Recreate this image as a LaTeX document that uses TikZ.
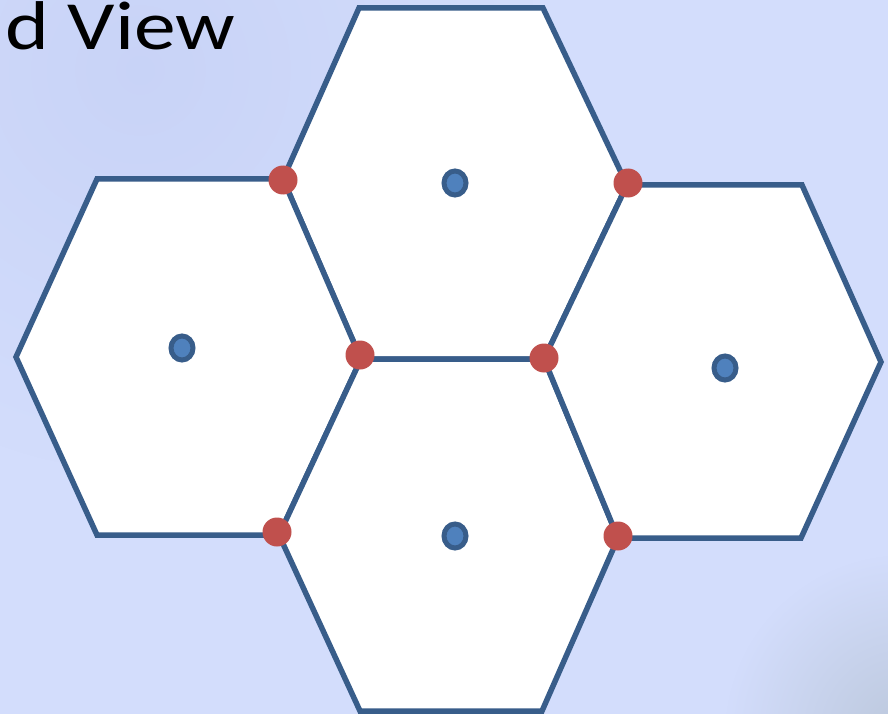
\documentclass[tikz,border=0pt]{standalone}
\usepackage{fontspec}
\setmainfont{Carlito}
\newfontfamily\titlefont[FakeStretch=1.21]{Carlito}
\usetikzlibrary{fadings,shapes.geometric}
\definecolor{bgbase}{HTML}{D3DDFC}
\definecolor{bgtl}{HTML}{C6D1F6}
\definecolor{bgbr}{HTML}{BCC8DC}
\definecolor{hexline}{HTML}{385D8A}
\definecolor{reddot}{HTML}{C0504D}
\definecolor{bluedot}{HTML}{4F81BD}
\tikzfading[name=radfade, inner color=transparent!0, outer color=transparent!100]
\tikzset{
  hexcell/.style={draw=hexline, fill=white, line width=5.5pt, line join=miter},
  vertexdot/.style={circle, fill=reddot, inner sep=0pt, minimum size=29pt},
  centerdot/.style={ellipse, draw=hexline, fill=bluedot, line width=5pt, inner sep=0pt, minimum width=22pt, minimum height=24pt},
}
\begin{document}
\begin{tikzpicture}[x=1pt, y=-1pt]
\useasboundingbox (0,0) rectangle (888,714);
% background
\fill[bgbase] (0,0) rectangle (888,714);
\begin{scope}
\clip (0,0) rectangle (888,714);
\fill[bgtl, path fading=radfade, fill opacity=0.8] (140,70) circle (400);
\fill[bgbr, path fading=radfade] (905,735) circle (180);
\end{scope}
% title fragment
\node[anchor=base west, inner sep=0pt, font=\titlefont\fontsize{69}{80}\selectfont] (title) at (5,50) {d View};
% shared vertices (polygon corners)
\coordinate (A) at (283,179);
\coordinate (B) at (627,185);
\coordinate (C) at (361,359);
\coordinate (D) at (544,359);
\coordinate (E) at (279,535);
\coordinate (F) at (618,538);
% outer vertices
\coordinate (T1) at (359,8);
\coordinate (T2) at (543,8);
\coordinate (L1) at (97,179);
\coordinate (L2) at (16,357);
\coordinate (L3) at (97,535);
\coordinate (B1) at (542,711);
\coordinate (B2) at (360,711);
\coordinate (R1) at (802,185);
\coordinate (R2) at (881,362);
\coordinate (R3) at (801,538);
% hexagons
\draw[hexcell] (T1) -- (T2) -- (B) -- (D) -- (C) -- (A) -- cycle;
\draw[hexcell] (L1) -- (A) -- (C) -- (E) -- (L3) -- (L2) -- cycle;
\draw[hexcell] (C) -- (D) -- (F) -- (B1) -- (B2) -- (E) -- cycle;
\draw[hexcell] (B) -- (R1) -- (R2) -- (R3) -- (F) -- (D) -- cycle;
% vertex dots
\node[vertexdot] (dotA) at (283,180) {};
\node[vertexdot] (dotB) at (628,183) {};
\node[vertexdot] (dotC) at (360,355) {};
\node[vertexdot] (dotD) at (544,358) {};
\node[vertexdot] (dotE) at (277,532) {};
\node[vertexdot] (dotF) at (618,536) {};
% centre dots
\node[centerdot] (ctop) at (455,183) {};
\node[centerdot] (cleft) at (182,348) {};
\node[centerdot] (cbottom) at (455,536) {};
\node[centerdot] (cright) at (725,368) {};
\end{tikzpicture}
\end{document}
